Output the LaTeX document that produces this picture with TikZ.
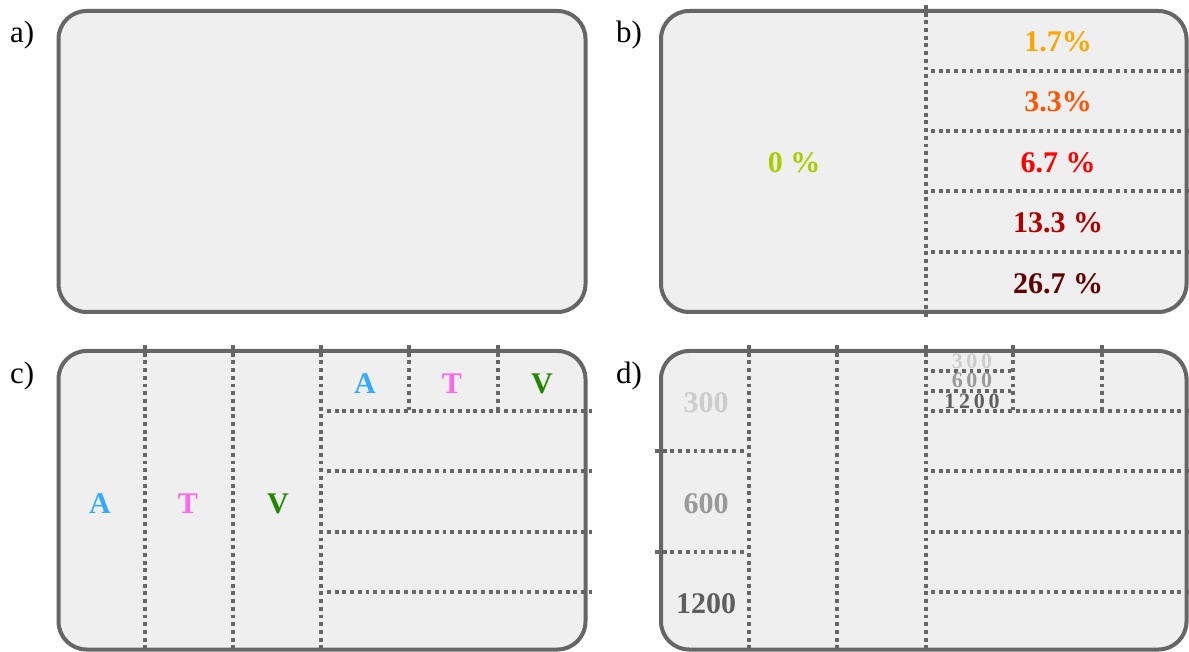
\documentclass[tikz,border=0pt]{standalone}
\usepackage{fontspec}
\setmainfont{Liberation Serif}
\newfontfamily\spacedserif[LetterSpace=17]{Liberation Serif}
\definecolor{framegray}{HTML}{666666}
\definecolor{panelfill}{HTML}{EFEFEF}
\definecolor{pctzero}{HTML}{AACC00}
\definecolor{pctone}{HTML}{FFA500}
\definecolor{pcttwo}{HTML}{FF5500}
\definecolor{pctthree}{HTML}{FF0000}
\definecolor{pctfour}{HTML}{B00000}
\definecolor{pctfive}{HTML}{600000}
\definecolor{resA}{HTML}{33AAFF}
\definecolor{resT}{HTML}{FF66EE}
\definecolor{resV}{HTML}{228800}
\definecolor{lenlight}{HTML}{CCCCCC}
\definecolor{lenmid}{HTML}{999999}
\definecolor{lendark}{HTML}{5E5E5E}
\tikzset{
  panel/.style={draw=framegray, fill=panelfill, line width=4pt, rounded corners=28pt},
  divider/.style={draw=framegray, line width=3.8pt, dash pattern=on 3.9pt off 3.8pt},
  tag/.style={anchor=base west, font=\fontsize{31}{31}\selectfont, inner sep=0pt},
  big/.style={anchor=base, inner sep=0pt, font=\fontsize{30}{30}\selectfont\bfseries},
  small/.style={anchor=base, inner sep=0pt, font=\fontsize{22}{22}\selectfont\spacedserif\bfseries},
}
\begin{document}
\begin{tikzpicture}[x=1pt, y=-1pt]
\useasboundingbox (0,0) rectangle (1189,652);

% panel outlines
\draw[panel] (58.5,11) rectangle (585.5,312);
\draw[panel] (661,11) rectangle (1186.5,312);
\draw[panel] (58.5,351) rectangle (585.5,649.5);
\draw[panel] (661,351) rectangle (1186.5,649.5);

% panel tags
\node[tag] (taga) at (10,43) {a)};
\node[tag] (tagb) at (616,43) {b)};
\node[tag] (tagc) at (10,384) {c)};
\node[tag] (tagd) at (616,384) {d)};

% ---- b) concentrations ----
\draw[divider] (926,5) -- (926,320);
\foreach \y in {71,131,191,252} \draw[divider] (931,\y) -- (1189,\y);
\node[big, text=pctzero] (p0) at (794,173) {0 \%};
\node[big, text=pctone] (p1) at (1058,52) {1.7\%};
\node[big, text=pcttwo] (p2) at (1058,112) {3.3\%};
\node[big, text=pctthree] (p3) at (1058,173) {6.7 \%};
\node[big, text=pctfour] (p4) at (1058,233) {13.3 \%};
\node[big, text=pctfive] (p5) at (1058,294) {26.7 \%};

% ---- c) residues ----
\foreach \x in {145,233,321} \draw[divider] (\x,345) -- (\x,652);
\foreach \x in {409,498} \draw[divider] (\x,345) -- (\x,410);
\foreach \y in {411,471,532,592} \draw[divider] (327,\y) -- (592,\y);
\node[big, text=resA] (cA) at (100,513) {A};
\node[big, text=resT] (cT) at (188,513) {T};
\node[big, text=resV] (cV) at (278,513) {V};
\node[big, text=resA] (rA) at (365,393) {A};
\node[big, text=resT] (rT) at (452,393) {T};
\node[big, text=resV] (rV) at (542,393) {V};

% ---- d) lengths ----
\foreach \x in {749,837,926} \draw[divider] (\x,345) -- (\x,652);
\foreach \x in {1013,1102} \draw[divider] (\x,345) -- (\x,410);
\foreach \y in {411,471,532,592} \draw[divider] (931,\y) -- (1189,\y);
\foreach \y in {451,552} \draw[divider] (655,\y) -- (746,\y);
\foreach \y in {371,391} \draw[divider] (931,\y) -- (1011,\y);
\node[big, text=lenlight] (l300) at (706,412) {300};
\node[big, text=lenmid] (l600) at (706,513) {600};
\node[big, text=lendark] (l1200) at (706,613) {1200};
\node[small, text=lenlight] (s300) at (972,368) {300};
\node[small, text=lenmid] (s600) at (972,388) {600};
\node[small, text=lendark] (s1200) at (972,408) {1200};
\end{tikzpicture}
\end{document}
